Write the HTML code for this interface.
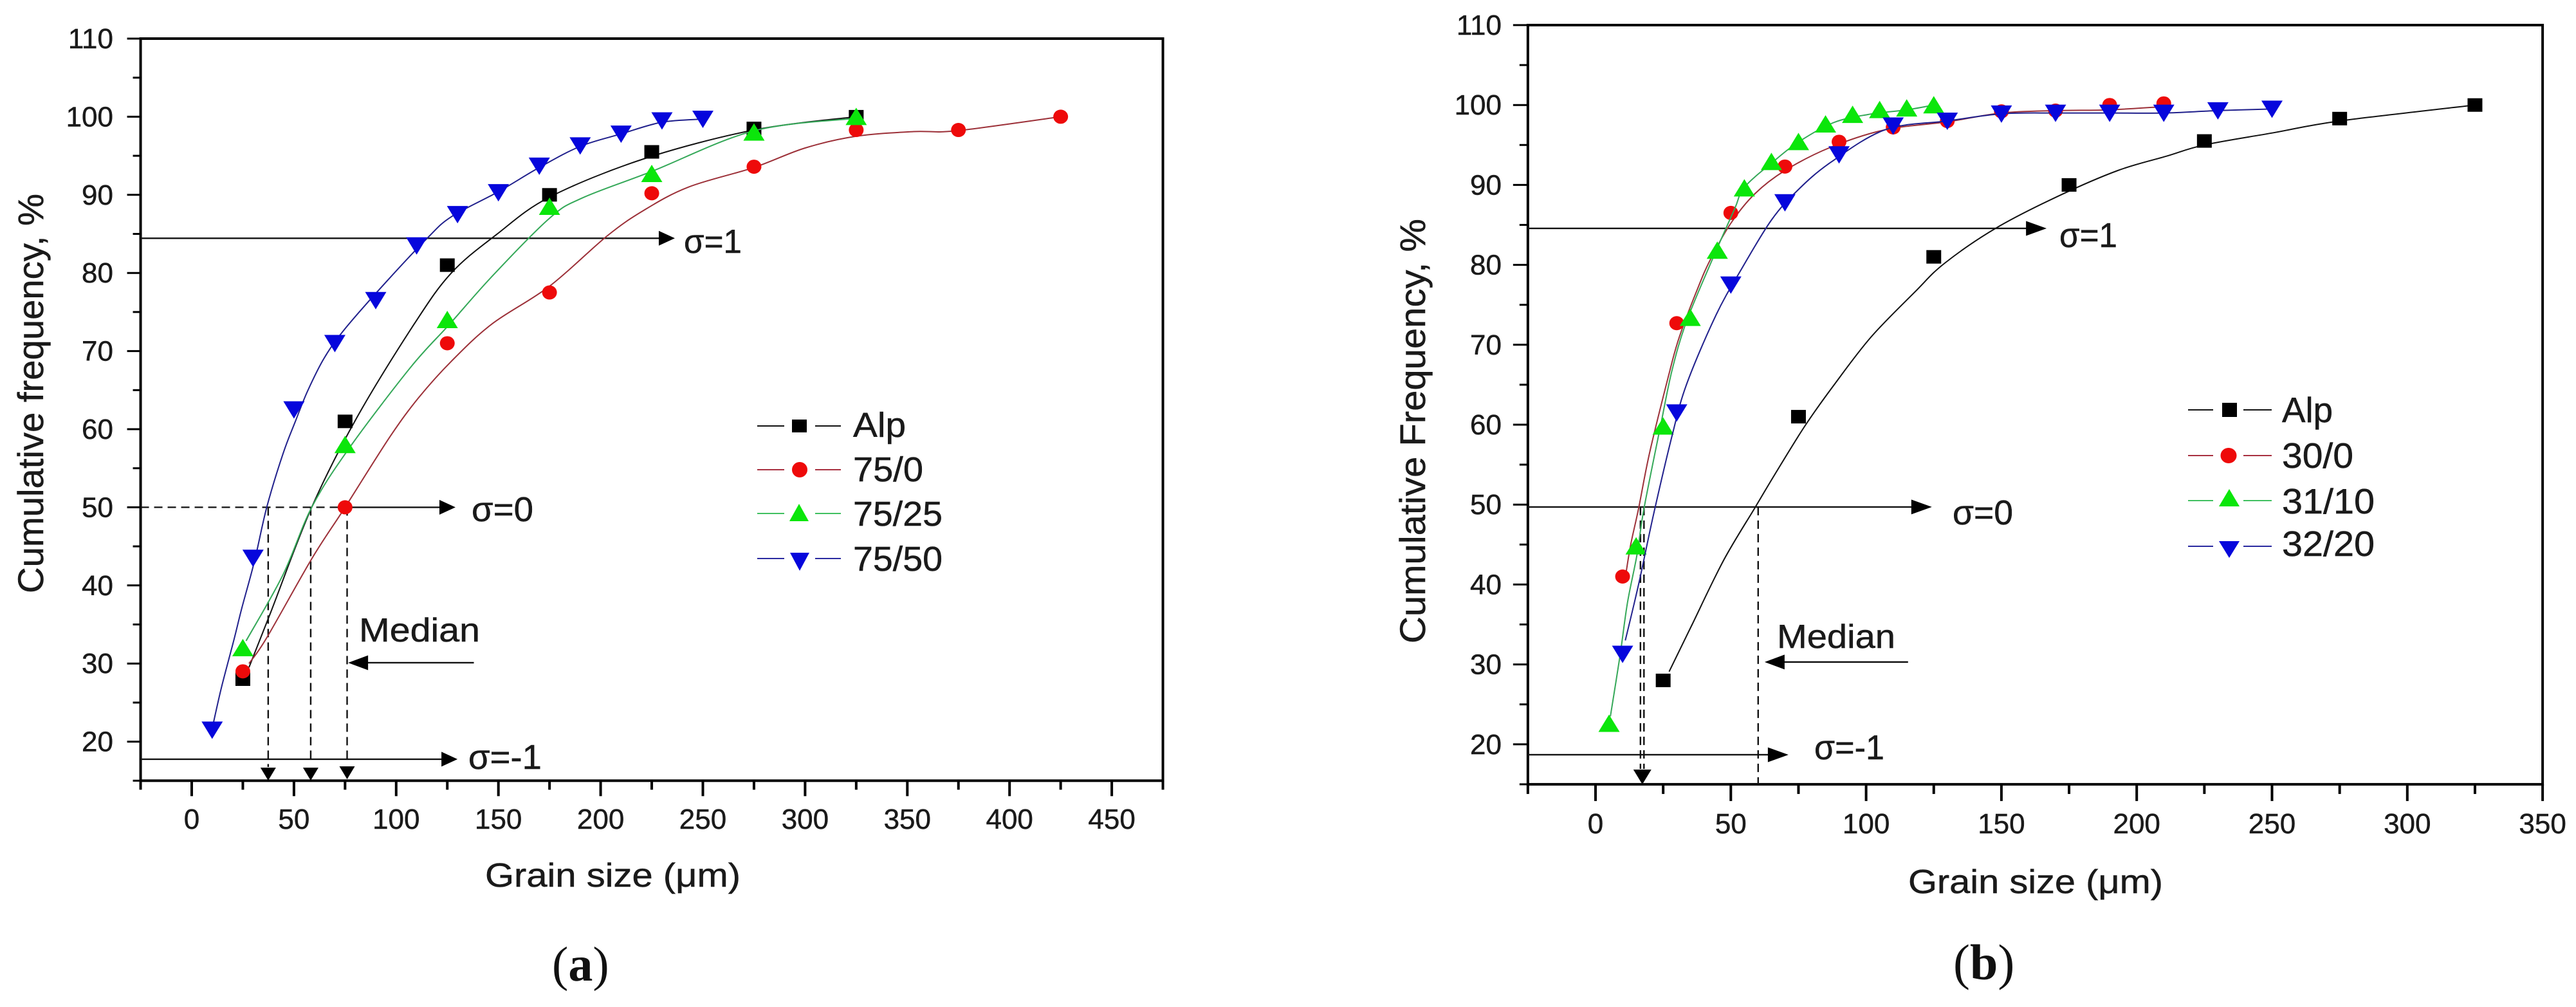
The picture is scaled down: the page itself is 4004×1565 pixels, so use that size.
<!DOCTYPE html>
<html lang="en">
<head>
<meta charset="utf-8">
<title>Cumulative frequency vs grain size</title>
<style>
html,body{margin:0;padding:0;background:#fff;}
svg{display:block;}
text{font-family:"Liberation Sans",sans-serif;fill:#1a1a1a;stroke:#1a1a1a;stroke-width:0.5px;}
.cap{font-family:"Liberation Serif",serif;fill:#111;stroke:none;}
</style>
</head>
<body>
<svg id="figure" xmlns="http://www.w3.org/2000/svg" width="4004" height="1565" viewBox="0 0 4004 1565">
  <rect x="0" y="0" width="4004" height="1565" fill="#fff"/>
  <g id="panel-a">
    <text transform="rotate(-90 67 922)" x="67" y="922" font-size="56" textLength="621" lengthAdjust="spacingAndGlyphs">Cumulative frequency, %</text>
    <text x="754" y="1378" font-size="52" textLength="397" lengthAdjust="spacingAndGlyphs">Grain size (&#956;m)</text>
    <text x="1063" y="393" font-size="52" textLength="90" lengthAdjust="spacingAndGlyphs">&#963;=1</text>
    <text x="733" y="810" font-size="54" textLength="96" lengthAdjust="spacingAndGlyphs">&#963;=0</text>
    <text x="728" y="1195" font-size="54" textLength="114" lengthAdjust="spacingAndGlyphs">&#963;=-1</text>
    <text x="558" y="997" font-size="52" textLength="188" lengthAdjust="spacingAndGlyphs">Median</text>
    <g>
      <g>
        <path d="M1177 662H1219M1267 662H1307" stroke="#111" stroke-width="2"/>
        <rect x="1231" y="652" width="23" height="20" fill="#000"/>
        <text x="1326" y="679" font-size="54" textLength="82" lengthAdjust="spacingAndGlyphs">Alp</text>
      </g>
      <g>
        <path d="M1177 730H1219M1267 730H1307" stroke="#a83040" stroke-width="2"/>
        <ellipse cx="1243" cy="730" rx="12" ry="12" fill="#ee0a0a"/>
        <text x="1326" y="748" font-size="54" textLength="109" lengthAdjust="spacingAndGlyphs">75/0</text>
      </g>
      <g>
        <path d="M1177 798H1219M1267 798H1307" stroke="#40c060" stroke-width="2"/>
        <polygon points="1242,783 1257,810 1227,810" fill="#0be60b"/>
        <text x="1326" y="817" font-size="54" textLength="139" lengthAdjust="spacingAndGlyphs">75/25</text>
      </g>
      <g>
        <path d="M1177 868H1219M1267 868H1307" stroke="#2a2aa0" stroke-width="2"/>
        <polygon points="1228,859 1258,859 1243,887" fill="#0606dc"/>
        <text x="1326" y="887" font-size="54" textLength="139" lengthAdjust="spacingAndGlyphs">75/50</text>
      </g>
    </g>
    <text class="cap" x="858" y="1524" font-size="76">(<tspan font-weight="bold">a</tspan>)</text>
  </g>
  <g id="panel-b">
    <text transform="rotate(-90 2215 1000)" x="2215" y="1000" font-size="56" textLength="660" lengthAdjust="spacingAndGlyphs">Cumulative Frequency, %</text>
    <text x="2966" y="1388" font-size="52" textLength="396" lengthAdjust="spacingAndGlyphs">Grain size (&#956;m)</text>
    <text x="3201" y="384" font-size="54" textLength="90" lengthAdjust="spacingAndGlyphs">&#963;=1</text>
    <text x="3035" y="815" font-size="54" textLength="94" lengthAdjust="spacingAndGlyphs">&#963;=0</text>
    <text x="2820" y="1180" font-size="54" textLength="109" lengthAdjust="spacingAndGlyphs">&#963;=-1</text>
    <text x="2762" y="1007" font-size="52" textLength="184" lengthAdjust="spacingAndGlyphs">Median</text>
    <g>
      <g>
        <path d="M3401 637H3440M3487 637H3531" stroke="#111" stroke-width="2"/>
        <rect x="3454" y="626" width="23" height="22" fill="#000"/>
        <text x="3547" y="656" font-size="55" textLength="79" lengthAdjust="spacingAndGlyphs">Alp</text>
      </g>
      <g>
        <path d="M3401 708H3440M3487 708H3531" stroke="#a83040" stroke-width="2"/>
        <ellipse cx="3464" cy="708" rx="12.5" ry="12" fill="#ee0a0a"/>
        <text x="3547" y="727" font-size="55" textLength="111" lengthAdjust="spacingAndGlyphs">30/0</text>
      </g>
      <g>
        <path d="M3401 778H3440M3487 778H3531" stroke="#40c060" stroke-width="2"/>
        <polygon points="3465,760 3481,787 3449,787" fill="#0be60b"/>
        <text x="3547" y="798" font-size="55" textLength="144" lengthAdjust="spacingAndGlyphs">31/10</text>
      </g>
      <g>
        <path d="M3401 849H3440M3487 849H3531" stroke="#2a2aa0" stroke-width="2"/>
        <polygon points="3449,841 3481,841 3465,867" fill="#0606dc"/>
        <text x="3547" y="864" font-size="55" textLength="144" lengthAdjust="spacingAndGlyphs">32/20</text>
      </g>
    </g>
    <text class="cap" x="3036" y="1522" font-size="78">(<tspan font-weight="bold">b</tspan>)</text>
  </g>
</svg>
<script>
/* ---------- Panel (a) values ---------- */
const aXTickLabels = [0, 50, 100, 150, 200, 250, 300, 350, 400, 450];
const aXMinorTicks = [-25, 25, 75, 125, 175, 225, 275, 325, 375, 425, 475];
const yTickLabels = [20, 30, 40, 50, 60, 70, 80, 90, 100, 110];
const yMinorTicks = [15, 25, 35, 45, 55, 65, 75, 85, 95, 105];

const aAlpGrain = [25, 75, 125, 175, 225, 275, 325];
const aAlpFreq = [28, 61, 81, 90, 95.5, 98.5, 100];
const aAlpFitGrain = [28, 38.7, 58.7, 80.8, 108.9, 127, 149, 175, 221, 275, 325];
const aAlpFitFreq = [29.5, 36.6, 50, 61.5, 73.5, 80, 84.9, 89.7, 94.6, 98.3, 100];

const a750Grain = [25, 75, 125, 175, 225, 275, 325, 375, 425];
const a750Freq = [29, 50, 71, 77.5, 90.2, 93.6, 98.3, 98.3, 100];
const a750FitGrain = [28, 36.7, 58.7, 75, 96.9, 110.9, 127, 147, 175, 203, 221, 243, 275, 300, 325, 353, 374, 425];
const a750FitFreq = [30, 33.3, 43.4, 50, 59, 64, 68.7, 73.5, 78.3, 84.7, 88, 91, 93.5, 96, 97.5, 98.1, 98.2, 100];

const a7525Grain = [25, 75, 125, 175, 225, 275, 325];
const a7525Freq = [32, 58, 74, 88.5, 92.7, 98, 100];
const a7525FitGrain = [26.6, 44.7, 58.7, 76.8, 107, 126, 147, 175, 191, 225, 275, 325];
const a7525FitFreq = [32.9, 41.4, 50, 57.5, 67.9, 73.4, 79.6, 87, 89.6, 93, 98.2, 99.8];

const a7550Grain = [10, 30, 50, 70, 90, 110, 130, 150, 170, 190, 210, 230, 250];
const a7550Freq = [21.5, 43.5, 62.5, 71, 76.5, 83.5, 87.5, 90.3, 93.7, 96.3, 97.8, 99.5, 99.7];
const a7550FitGrain = [10.6, 14.6, 20.6, 24.6, 30.6, 36.7, 44.7, 50.7, 56.7, 64.8, 74.8, 94.9, 115, 127, 150, 170, 190, 210, 230, 250];
const a7550FitFreq = [22.4, 27, 33, 37.2, 43, 50, 56.9, 61, 64.9, 69.1, 72.8, 78.8, 84.4, 87.2, 90.4, 93.5, 96.2, 97.8, 99.3, 99.7];

const aSigmaLevels = [84.44, 50, 17.75];
const aSigmaTips = [236.3, 129, 130];
const aMedianGrains = [37.4, 58.2, 76];
const aMedianArrowLevel = 30.1;
const aMedianArrowGrains = [76.5, 138];

/* ---------- Panel (b) values ---------- */
const bXTickLabels = [0, 50, 100, 150, 200, 250, 300, 350];
const bXMinorTicks = [-25, 25, 75, 125, 175, 225, 275, 325];

const bAlpGrain = [25, 75, 125, 175, 225, 275, 325];
const bAlpFreq = [28, 61, 81, 90, 95.5, 98.3, 100];
const bAlpFitGrain = [27.2, 35.7, 47.3, 58.9, 66.3, 77.3, 88.2, 101.9, 118, 129, 148, 171, 193, 211, 225, 250, 275, 325];
const bAlpFitFreq = [29.1, 35, 43, 49.6, 53.8, 59.8, 65, 71, 76.6, 80.2, 84.6, 88.6, 91.8, 93.6, 95, 96.5, 98, 100];

const b300Grain = [10, 30, 50, 70, 90, 110, 130, 150, 170, 190, 210];
const b300Freq = [41, 72.7, 86.5, 92.3, 95.4, 97.2, 98, 99.2, 99.3, 100, 100.2];
const b300FitGrain = [11.2, 13, 15.9, 20, 26.9, 30.9, 37.7, 42.5, 50, 58.9, 70, 86.8, 107, 130, 150, 170, 190, 210];
const b300FitFreq = [41.3, 45, 49.5, 56.5, 66, 70.9, 77, 80.7, 85.2, 88.9, 91.8, 94.7, 96.9, 97.9, 99, 99.3, 99.4, 99.8];

const b3110Grain = [5, 15, 25, 35, 45, 55, 65, 75, 85, 95, 105, 115, 125];
const b3110Freq = [22.6, 44.8, 59.8, 73.4, 81.8, 89.6, 92.9, 95.4, 97.6, 98.8, 99.4, 99.6, 100];
const b3110FitGrain = [5.5, 9, 11.8, 15.3, 17.9, 24, 28.2, 33.6, 43.2, 51.4, 55, 66, 75.6, 88, 100.5, 115, 125];
const b3110FitFreq = [23.5, 31, 37.7, 43.7, 49.5, 59.8, 66.7, 72.9, 80.7, 87, 89.7, 93, 95.5, 97.8, 98.8, 99.4, 100];

const b3220Grain = [10, 30, 50, 70, 90, 110, 130, 150, 170, 190, 210, 230, 250];
const b3220Freq = [31.3, 61.5, 77.5, 87.8, 93.8, 97.4, 98, 98.9, 99, 99, 99, 99.3, 99.5];
const b3220FitGrain = [11, 15.9, 21.4, 28.2, 33.6, 44.5, 54, 65, 74.6, 86.8, 107, 130, 150, 170, 190, 210, 230, 250];
const b3220FitFreq = [33, 40, 48.7, 58.5, 65, 73.7, 79.5, 85.6, 89.3, 92.8, 96.9, 98, 98.9, 99, 99, 99, 99.3, 99.5];

const bSigmaLevels = [84.56, 49.7, 18.7];
const bSigmaTips = [166.7, 124.3, 71.3];
const bMedianGrains = [16.6, 17.9, 60.1];
const bMedianArrowLevel = 30.3;
const bMedianArrowGrains = [62.5, 115.5];

/* ---------- Drawing ---------- */
const NS = 'http://www.w3.org/2000/svg';
function make(parent, tag, attrs) {
  const e = document.createElementNS(NS, tag);
  for (const k in attrs) e.setAttribute(k, attrs[k]);
  parent.appendChild(e);
  return e;
}
function curvePath(pts) {
  let d = 'M' + pts[0][0].toFixed(1) + ' ' + pts[0][1].toFixed(1);
  for (let i = 0; i < pts.length - 1; i++) {
    const p0 = pts[Math.max(i - 1, 0)], p1 = pts[i], p2 = pts[i + 1], p3 = pts[Math.min(i + 2, pts.length - 1)];
    const c1x = p1[0] + (p2[0] - p0[0]) / 6, c1y = p1[1] + (p2[1] - p0[1]) / 6;
    const c2x = p2[0] - (p3[0] - p1[0]) / 6, c2y = p2[1] - (p3[1] - p1[1]) / 6;
    d += 'C' + c1x.toFixed(1) + ' ' + c1y.toFixed(1) + ' ' + c2x.toFixed(1) + ' ' + c2y.toFixed(1) + ' ' + p2[0].toFixed(1) + ' ' + p2[1].toFixed(1);
  }
  return d;
}
function drawMarker(g, shape, cx, cy, color) {
  if (shape === 'square') return make(g, 'rect', {x: cx - 11.5, y: cy - 10.5, width: 23, height: 21, fill: color});
  if (shape === 'circle') return make(g, 'ellipse', {cx: cx, cy: cy, rx: 11.5, ry: 11, fill: color});
  if (shape === 'up') return make(g, 'polygon', {points: (cx) + ',' + (cy - 14) + ' ' + (cx + 16.5) + ',' + (cy + 13) + ' ' + (cx - 16.5) + ',' + (cy + 13), fill: color});
  return make(g, 'polygon', {points: (cx - 16.5) + ',' + (cy - 13) + ' ' + (cx + 16.5) + ',' + (cy - 13) + ' ' + (cx) + ',' + (cy + 14), fill: color});
}
function drawPanel(p) {
  const root = document.getElementById(p.id);
  const X = v => p.x0 + p.kx * v;
  const Y = v => p.yTop + (110 - v) * p.ky;
  const left = X(p.xMin), right = X(p.xMax), top = Y(110), bottom = Y(15);

  const axes = make(root, 'g', {});
  
  

  const frame = make(axes, 'rect', {x: left, y: top, width: right - left, height: bottom - top, fill: 'none', stroke: '#000', 'stroke-width': 4});
  
  

  yTickLabels.forEach(v => {
    const t = make(axes, 'line', {x1: left - p.majorLen, x2: left, y1: Y(v), y2: Y(v), stroke: '#000', 'stroke-width': 3});
    
    
    const l = make(axes, 'text', {x: p.yLabelX, y: Y(v) + 15, 'text-anchor': 'end', 'font-size': 44});
    l.textContent = String(v);
    
    
  });
  yMinorTicks.forEach(v => {
    const t = make(axes, 'line', {x1: left - p.minorLen, x2: left, y1: Y(v), y2: Y(v), stroke: '#000', 'stroke-width': 3});
    
    
  });
  p.xLabels.forEach(v => {
    const t = make(axes, 'line', {x1: X(v), x2: X(v), y1: bottom, y2: bottom + p.majorLen + 3, stroke: '#000', 'stroke-width': 4});
    
    
    const l = make(axes, 'text', {x: X(v), y: p.xLabelY, 'text-anchor': 'middle', 'font-size': 44});
    l.textContent = String(v);
    
    
  });
  p.xMinor.forEach(v => {
    const t = make(axes, 'line', {x1: X(v), x2: X(v), y1: bottom, y2: bottom + p.minorLen + 2, stroke: '#000', 'stroke-width': 4});
    
    
  });

  /* reference lines */
  const notes = make(root, 'g', {});
  
  
  p.sigmaLevels.forEach((lv, i) => {
    const yy = Y(lv), tip = X(p.sigmaTips[i]);
    const dashEnd = p.dashedTo[i] === null ? left : X(p.dashedTo[i]);
    if (dashEnd > left) {
      const dash = make(notes, 'line', {x1: left, x2: dashEnd, y1: yy, y2: yy, stroke: '#111', 'stroke-width': 2.2, 'stroke-dasharray': '13 8'});
      
      
    }
    const ln = make(notes, 'line', {x1: dashEnd, x2: tip - 10, y1: yy, y2: yy, stroke: '#111', 'stroke-width': 2.4});
    
    
    const head = make(notes, 'polygon', {points: tip + ',' + yy + ' ' + (tip - p.headLen) + ',' + (yy - 11.5) + ' ' + (tip - p.headLen) + ',' + (yy + 11.5), fill: '#000'});
    
    
  });
  p.medians.forEach((m, i) => {
    const drop = make(notes, 'line', {x1: X(m), x2: X(m), y1: Y(p.sigmaLevels[1]), y2: p.dropEnd[i], stroke: '#111', 'stroke-width': 2.4, 'stroke-dasharray': '13 8'});
    
    
  });
  p.downArrows.forEach((m, i) => {
    const cx = X(m), tipY = p.downTips[i];
    const a = make(notes, 'polygon', {points: (cx - p.downW) + ',' + (tipY - p.downH) + ' ' + (cx + p.downW) + ',' + (tipY - p.downH) + ' ' + cx + ',' + tipY, fill: '#000'});
    
    
  });
  const my = Y(p.medianLevel), mTip = X(p.medianArrow[0]), mTail = X(p.medianArrow[1]);
  const mLine = make(notes, 'line', {x1: mTip + 20, x2: mTail, y1: my, y2: my, stroke: '#111', 'stroke-width': 2.4});
  
  
  const mHead = make(notes, 'polygon', {points: mTip + ',' + my + ' ' + (mTip + 31) + ',' + (my - 11.5) + ' ' + (mTip + 31) + ',' + (my + 11.5), fill: '#000'});
  
  

  /* data series */
  p.series.forEach(s => {
    const g = make(root, 'g', {});
    
    
    const pts = s.fitGrain.map((v, i) => [X(v), Y(s.fitFreq[i])]);
    const c = make(g, 'path', {d: curvePath(pts), fill: 'none', stroke: s.line, 'stroke-width': 2});
    
    
    s.grain.forEach((v, i) => {
      const m = drawMarker(g, s.shape, X(v), Y(s.freq[i]), s.fill);
      
      
    });
  });
}

drawPanel({
  id: 'panel-a', suffix: 'a', x0: 298, kx: 3.178, yTop: 60, ky: 12.14, xMin: -25, xMax: 475,
  majorLen: 21, minorLen: 12, yLabelX: 176, xLabelY: 1288, headLen: 25, downW: 12, downH: 20,
  xLabels: aXTickLabels, xMinor: aXMinorTicks,
  sigmaLevels: aSigmaLevels, sigmaTips: aSigmaTips, dashedTo: [null, 75.5, null],
  medians: aMedianGrains, dropEnd: [1192, 1180, 1180],
  downArrows: aMedianGrains, downTips: [1213, 1213, 1211],
  medianLevel: aMedianArrowLevel, medianArrow: aMedianArrowGrains,
  series: [
    {name: 'alp', shape: 'square', fill: '#000', line: '#111', grain: aAlpGrain, freq: aAlpFreq, fitGrain: aAlpFitGrain, fitFreq: aAlpFitFreq},
    {name: '75-0', shape: 'circle', fill: '#ee0a0a', line: '#9c3038', grain: a750Grain, freq: a750Freq, fitGrain: a750FitGrain, fitFreq: a750FitFreq},
    {name: '75-25', shape: 'up', fill: '#0be60b', line: '#34a858', grain: a7525Grain, freq: a7525Freq, fitGrain: a7525FitGrain, fitFreq: a7525FitFreq},
    {name: '75-50', shape: 'down', fill: '#0606dc', line: '#20208c', grain: a7550Grain, freq: a7550Freq, fitGrain: a7550FitGrain, fitFreq: a7550FitFreq}
  ]
});
drawPanel({
  id: 'panel-b', suffix: 'b', x0: 2480, kx: 4.206, yTop: 39, ky: 12.42, xMin: -25, xMax: 350,
  majorLen: 23, minorLen: 13, yLabelX: 2334, xLabelY: 1295, headLen: 32, downW: 14, downH: 23,
  xLabels: bXTickLabels, xMinor: bXMinorTicks,
  sigmaLevels: bSigmaLevels, sigmaTips: bSigmaTips, dashedTo: [null, null, null],
  medians: bMedianGrains, dropEnd: [1195, 1195, 1219],
  downArrows: [17.3], downTips: [1219],
  medianLevel: bMedianArrowLevel, medianArrow: bMedianArrowGrains,
  series: [
    {name: 'alp-b', shape: 'square', fill: '#000', line: '#111', grain: bAlpGrain, freq: bAlpFreq, fitGrain: bAlpFitGrain, fitFreq: bAlpFitFreq},
    {name: '30-0', shape: 'circle', fill: '#ee0a0a', line: '#9c3038', grain: b300Grain, freq: b300Freq, fitGrain: b300FitGrain, fitFreq: b300FitFreq},
    {name: '31-10', shape: 'up', fill: '#0be60b', line: '#34a858', grain: b3110Grain, freq: b3110Freq, fitGrain: b3110FitGrain, fitFreq: b3110FitFreq},
    {name: '32-20', shape: 'down', fill: '#0606dc', line: '#20208c', grain: b3220Grain, freq: b3220Freq, fitGrain: b3220FitGrain, fitFreq: b3220FitFreq}
  ]
});
</script>
</body>
</html>
